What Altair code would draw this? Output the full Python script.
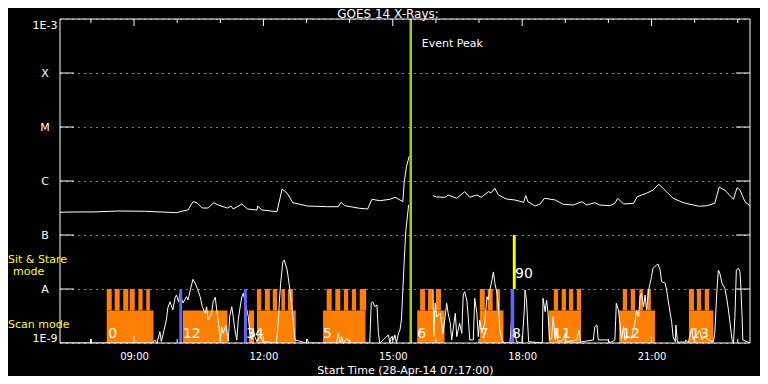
import math
import altair as alt
import pandas as pd

DAY = "2014-04-28 "

# ---------------- GOES long channel (white, upper curve) ----------------
long_time_1 = ["07:17", "07:35", "08:03", "08:37", "09:15", "10:00", "10:07", "10:15", "10:22", "10:28",
               "10:35", "10:43", "10:51", "10:57", "11:10", "11:15", "11:18", "11:30", "11:38", "11:51",
               "11:52", "11:58", "12:19", "12:20", "12:26", "12:33", "12:41", "13:01", "13:29", "13:44",
               "13:48", "13:53", "14:14", "14:25", "14:31", "14:42", "14:56", "15:03", "15:10", "15:14",
               "15:16", "15:19", "15:23"]
long_flux_1 = [2.63e-7, 2.67e-7, 2.67e-7, 2.78e-7, 2.75e-7, 2.59e-7, 2.78e-7, 2.90e-7, 4.14e-7, 3.92e-7,
               3.16e-7, 3.16e-7, 3.97e-7, 3.59e-7, 3.16e-7, 3.44e-7, 3.03e-7, 3.75e-7, 3.03e-7, 2.90e-7,
               3.44e-7, 2.90e-7, 2.70e-7, 3.16e-7, 7.11e-7, 5.92e-7, 3.97e-7, 3.44e-7, 3.34e-7, 3.34e-7,
               4.03e-7, 3.49e-7, 3.12e-7, 3.03e-7, 4.58e-7, 4.32e-7, 4.58e-7, 4.99e-7, 4.45e-7, 4.14e-7,
               9.70e-7, 1.84e-6, 2.90e-6]
long_time_2 = ["15:56", "16:01", "16:13", "16:17", "16:29", "16:40", "16:47", "16:57", "17:03", "17:13",
               "17:17", "17:22", "17:27", "17:38", "17:50", "18:02", "18:05", "18:08", "18:18", "18:25",
               "18:31", "18:46", "18:57", "19:11", "19:23", "19:30", "19:41", "19:48", "20:02", "20:09",
               "20:13", "20:21", "20:35", "20:40", "20:53", "21:02", "21:10", "21:16", "21:30", "21:44",
               "21:58", "22:07", "22:17", "22:28", "22:34", "22:42", "22:54", "22:59", "23:03", "23:10",
               "23:17"]
long_flux_2 = [5.35e-7, 5.06e-7, 4.99e-7, 5.51e-7, 4.79e-7, 6.34e-7, 4.99e-7, 5.51e-7, 4.99e-7, 6.34e-7,
               6.07e-7, 7.33e-7, 5.51e-7, 4.64e-7, 4.45e-7, 4.03e-7, 5.35e-7, 4.14e-7, 3.44e-7, 3.75e-7,
               4.79e-7, 4.45e-7, 3.71e-7, 3.59e-7, 4.14e-7, 3.59e-7, 3.97e-7, 3.59e-7, 3.49e-7, 3.86e-7,
               4.79e-7, 3.75e-7, 3.86e-7, 5.11e-7, 5.92e-7, 6.81e-7, 8.69e-7, 7.33e-7, 4.79e-7, 3.97e-7,
               3.59e-7, 3.40e-7, 3.49e-7, 3.86e-7, 7.64e-7, 6.81e-7, 4.58e-7, 7.52e-7, 6.81e-7, 4.14e-7,
               3.44e-7]

# ---------------- GOES short channel (white, noisy lower curve) ----------------
short_time_1 = ["07:17", "07:59", "08:00", "08:01", "09:26", "09:29", "09:32", "09:36", "09:38", "09:45",
                "09:47", "09:50", "09:54", "09:57", "09:59", "10:02", "10:04", "10:08", "10:13", "10:15",
                "10:20", "10:22", "10:25", "10:28", "10:32", "10:35", "10:39", "10:41", "10:43", "10:48",
                "10:50", "10:53", "10:55", "10:57", "11:00", "11:02", "11:04", "11:08", "11:10", "11:11",
                "11:13", "11:16", "11:18", "11:20", "11:23", "11:25", "11:27", "11:30", "11:32", "11:39",
                "11:41", "11:44", "11:46", "11:48", "11:51", "11:55", "12:00", "12:18", "12:21", "12:22",
                "12:24", "12:27", "12:29", "12:33", "12:37", "12:39", "12:42", "12:44", "12:59", "13:01",
                "13:03", "13:42", "13:44", "13:47", "13:49", "13:51", "13:56", "14:00", "14:28", "14:30",
                "14:32", "14:35", "14:38", "14:40", "14:42", "14:54", "14:56", "14:58", "15:01", "15:03",
                "15:05", "15:08", "15:10", "15:12", "15:14", "15:16", "15:18", "15:22"]
short_flux_1 = [1.0e-9, 1.0e-9, 1.19e-9, 1.0e-9, 1.0e-9, 1.14e-9, 1.0e-9, 1.62e-9, 1.06e-9, 2.67e-9,
                4.45e-9, 5.82e-9, 4.09e-9, 6.81e-9, 7.74e-9, 5.82e-9, 8.32e-9, 5.50e-9, 7.20e-9, 6.26e-9,
                1.19e-8, 1.51e-8, 1.28e-8, 1.03e-8, 7.20e-9, 4.70e-9, 3.55e-9, 4.70e-9, 2.67e-9, 3.55e-9,
                5.82e-9, 7.02e-9, 4.09e-9, 2.67e-9, 1.14e-9, 2.00e-9, 1.51e-9, 2.15e-9, 1.31e-9, 1.06e-9,
                3.07e-9, 4.70e-9, 3.07e-9, 1.87e-9, 1.14e-9, 2.67e-9, 4.09e-9, 7.20e-9, 8.32e-9, 3.07e-9,
                1.62e-9, 1.14e-9, 1.87e-9, 1.31e-9, 1.06e-9, 1.31e-9, 1.06e-9, 1.0e-9, 2.67e-9, 5.43e-9,
                1.28e-8, 3.16e-8, 3.44e-8, 2.25e-8, 9.58e-9, 5.43e-9, 2.00e-9, 1.14e-9, 1.0e-9, 1.19e-9,
                1.0e-9, 1.0e-9, 1.51e-9, 1.0e-9, 1.31e-9, 1.0e-9, 1.22e-9, 1.0e-9, 1.0e-9, 5.50e-9,
                5.82e-9, 4.70e-9, 5.06e-9, 1.51e-9, 1.0e-9, 1.41e-9, 1.0e-9, 1.31e-9, 1.14e-9, 1.41e-9,
                1.0e-9, 1.51e-9, 1.74e-9, 2.67e-9, 9.58e-9, 3.44e-8, 1.14e-7, 3.59e-7]
short_time_2 = ["15:56", "15:57", "15:59", "16:01", "16:06", "16:10", "16:15", "16:17", "16:20", "16:22",
                "16:27", "16:29", "16:33", "16:36", "16:38", "16:40", "16:43", "16:45", "16:47", "16:52",
                "16:54", "16:57", "16:59", "17:01", "17:04", "17:08", "17:11", "17:13", "17:15", "17:18",
                "17:20", "17:22", "17:25", "17:27", "17:29", "17:32", "17:35", "17:43", "17:45", "17:48",
                "17:50", "17:52", "18:00", "18:03", "18:04", "18:06", "18:09", "18:28", "18:29", "18:32",
                "18:34", "18:36", "18:38", "18:41", "18:43", "18:46", "18:47", "18:50", "18:57", "19:00",
                "19:01", "19:16", "19:19", "19:21", "19:39", "19:41", "19:44", "19:46", "20:00", "20:02",
                "20:09", "20:11", "20:14", "20:16", "20:18", "20:21", "20:23", "20:28", "20:32", "20:37",
                "20:39", "20:42", "20:44", "20:46", "20:49", "20:51", "20:53", "20:56", "20:58", "21:00",
                "21:02", "21:07", "21:09", "21:12", "21:14", "21:19", "21:21", "21:23", "21:26", "21:28",
                "21:30", "21:33", "21:34", "21:36", "21:47", "21:48", "21:51", "21:56", "21:58", "22:03",
                "22:07", "22:10", "22:14", "22:19", "22:26", "22:28", "22:31", "22:33", "22:35", "22:38",
                "22:42", "22:45", "22:47", "22:49", "22:52", "22:54", "22:56", "22:58", "23:01", "23:03",
                "23:04", "23:06", "23:07", "23:17"]
short_flux_2 = [9.58e-9, 1.31e-9, 5.50e-9, 3.03e-9, 3.59e-9, 1.51e-9, 5.43e-9, 3.55e-9, 2.32e-9, 1.14e-9,
                3.55e-9, 1.31e-9, 2.32e-9, 1.51e-9, 7.74e-9, 8.91e-9, 6.26e-9, 3.07e-9, 1.14e-9, 1.14e-9,
                6.73e-9, 3.55e-9, 1.31e-9, 2.67e-9, 1.51e-9, 2.32e-9, 7.20e-9, 6.26e-9, 9.58e-9, 1.47e-8,
                2.07e-8, 1.28e-8, 8.32e-9, 4.70e-9, 1.74e-9, 1.14e-9, 1.0e-9, 1.0e-9, 2.48e-9, 1.31e-9,
                1.62e-9, 1.06e-9, 1.0e-9, 4.09e-9, 9.58e-9, 6.26e-9, 1.06e-9, 1.0e-9, 6.73e-9, 3.80e-9,
                6.26e-9, 3.59e-9, 1.14e-9, 1.24e-9, 3.07e-9, 1.14e-9, 1.74e-9, 1.06e-9, 1.14e-9, 1.51e-9,
                1.04e-9, 1.14e-9, 1.74e-9, 1.04e-9, 1.14e-9, 2.00e-9, 2.15e-9, 1.14e-9, 1.14e-9, 1.0e-9,
                1.14e-9, 5.43e-9, 4.09e-9, 2.32e-9, 1.14e-9, 2.00e-9, 1.14e-9, 1.31e-9, 1.22e-9, 2.32e-9,
                4.09e-9, 3.07e-9, 7.20e-9, 8.32e-9, 4.70e-9, 7.74e-9, 4.09e-9, 9.58e-9, 1.28e-8, 1.69e-8,
                2.42e-8, 2.78e-8, 2.90e-8, 2.25e-8, 1.37e-8, 1.28e-8, 9.58e-9, 6.26e-9, 3.55e-9, 2.48e-9,
                1.31e-9, 1.06e-9, 2.15e-9, 1.04e-9, 1.04e-9, 1.14e-9, 1.0e-9, 1.87e-9, 1.14e-9, 1.41e-9,
                1.74e-9, 1.14e-9, 1.31e-9, 1.14e-9, 1.06e-9, 1.51e-9, 9.58e-9, 2.25e-8, 1.95e-8, 1.28e-8,
                1.03e-8, 6.26e-9, 4.09e-9, 2.48e-9, 1.14e-9, 1.0e-9, 3.07e-9, 2.25e-8, 2.42e-8, 2.09e-8,
                1.28e-8, 3.07e-9, 1.14e-9, 1.0e-9]

# ---------------- instrument mode bars ----------------
scan_start = ["08:22", "10:08", "11:40", "11:51", "13:23", "15:34", "17:01", "18:37", "20:15", "21:52"]
scan_end = ["09:27", "11:10", "11:47", "12:45", "14:22", "16:12", "17:34", "19:22", "21:05", "22:26"]
scan_top = 4.0e-9
tooth_start = ["08:22", "08:33", "08:45", "08:54", "09:06", "09:17",
               "11:51", "12:02", "12:13", "12:25", "12:34",
               "13:28", "13:40", "13:52", "14:03", "14:14",
               "15:38", "15:49", "16:00",
               "17:01", "17:12", "17:24",
               "18:44", "18:55", "19:05", "19:16",
               "20:20", "20:31", "20:43", "20:54",
               "21:52", "22:03", "22:14"]
tooth_end = ["08:29", "08:40", "08:52", "09:01", "09:12", "09:22",
             "11:57", "12:09", "12:19", "12:30", "12:41",
             "13:35", "13:47", "13:58", "14:09", "14:23",
             "15:45", "15:56", "16:07",
             "17:08", "17:19", "17:29",
             "18:50", "19:01", "19:11", "19:22",
             "20:26", "20:37", "20:48", "20:59",
             "21:59", "22:09", "22:20"]
mode_floor = 1.0e-9
mode_level = 1.0e-8
stare_level = 1.0e-7
blue_start = ["10:03", "11:33", "17:44"]
blue_end = ["10:07", "11:37", "17:49"]
yellow_start = ["17:47"]
yellow_end = ["17:51"]
event_peak_time = ["15:25"]

run_labels = ["0", "12", "34", "5", "6", "7", "8", "11", "12", "13"]
run_label_time = ["08:24", "10:08", "11:36", "13:23", "15:34", "17:01", "17:46", "18:43", "20:19", "21:55"]
run_label_flux = 1.24e-9
stare_labels = ["90"]
stare_label_time = ["17:50"]
stare_label_flux = 1.6e-8

level_flux = [1e-9, 1e-8, 1e-7, 1e-6, 1e-5, 1e-4, 1e-3]
level_name = ["1E-9", "A", "B", "C", "M", "X", "1E-3"]
hour_ticks = list(range(8, 24))
major_hours = [9, 12, 15, 18, 21]

# ---------------- frames ----------------
def tt(lst):
    return pd.to_datetime([DAY + t for t in lst])

lines_df = pd.concat([
    pd.DataFrame({"time": tt(long_time_1), "flux": long_flux_1, "seg": "long1"}),
    pd.DataFrame({"time": tt(long_time_2), "flux": long_flux_2, "seg": "long2"}),
    pd.DataFrame({"time": tt(short_time_1), "flux": short_flux_1, "seg": "short1"}),
    pd.DataFrame({"time": tt(short_time_2), "flux": short_flux_2, "seg": "short2"}),
], ignore_index=True)
scan_df = pd.DataFrame({"time": tt(scan_start), "end": tt(scan_end), "flux": mode_floor, "hi": scan_top})
tooth_df = pd.DataFrame({"time": tt(tooth_start), "end": tt(tooth_end), "flux": scan_top, "hi": mode_level})
blue_df = pd.DataFrame({"time": tt(blue_start), "end": tt(blue_end), "flux": mode_floor, "hi": mode_level})
yellow_df = pd.DataFrame({"time": tt(yellow_start), "end": tt(yellow_end), "flux": mode_level, "hi": stare_level})
peak_df = pd.DataFrame({"time": tt(event_peak_time), "label": ["Event Peak"]})
runlab_df = pd.DataFrame({"time": tt(run_label_time), "flux": run_label_flux, "label": run_labels})
starelab_df = pd.DataFrame({"time": tt(stare_label_time), "flux": stare_label_flux, "label": stare_labels})
level_df = pd.DataFrame({"flux": level_flux[1:-1]})
tick_df = pd.DataFrame({"time": tt([f"{h:02d}:00" for h in hour_ticks]),
                        "major": [h in major_hours for h in hour_ticks]})

W, H = 690, 324
FONT = "DejaVu Sans"
ORANGE = "#ff8000"

xs = alt.Scale(domain=[alt.DateTime(year=2014, month=4, date=28, hours=7, minutes=17),
                       alt.DateTime(year=2014, month=4, date=28, hours=23, minutes=17)], nice=False)
ys = alt.Scale(type="log", domain=[level_flux[0], level_flux[-1]], nice=False)

label_expr = "".join(
    f"abs(log(datum.value)/LN10 - ({round(math.log10(v))})) < 0.01 ? '{n}' : "
    for v, n in zip(level_flux, level_name)) + "''"

x_axis = alt.Axis(values=[alt.DateTime(year=2014, month=4, date=28, hours=h) for h in major_hours],
                  format="%H:%M", ticks=False, domain=False, grid=False, labelColor="white",
                  labelFont=FONT, labelFontSize=10, labelPadding=8,
                  title="Start Time (28-Apr-14 07:17:00)", titleColor="white", titleFont=FONT,
                  titleFontSize=11, titleFontWeight="normal", titlePadding=3)
y_axis = alt.Axis(values=level_flux, labelExpr=label_expr, ticks=False, domain=False,
                  grid=True, gridColor="white", gridDash=[1, 5], gridWidth=1, gridOpacity=1,
                  labelColor="white", labelFont=FONT, labelFontSize=11, labelAlign="center",
                  labelPadding=15.5, labelFlush=True, title=None)

X = alt.X("time:T", scale=xs, axis=x_axis)
Y = alt.Y("flux:Q", scale=ys, axis=y_axis)

def rects(df, color):
    return alt.Chart(df).mark_rect(color=color).encode(x=X, x2="end:T", y=Y, y2="hi:Q")

scan = rects(scan_df, ORANGE)
teeth = rects(tooth_df, ORANGE)
blue = rects(blue_df, "#6464ff")
yellow = rects(yellow_df, "#ffff00")

lines = alt.Chart(lines_df).mark_line(color="white", strokeWidth=1, clip=True).encode(
    x=X, y=Y, detail="seg:N")

peak_rule = alt.Chart(peak_df).mark_rule(color="#a0d000", strokeWidth=2.5).encode(x=X)
peak_text = alt.Chart(peak_df).mark_text(color="white", font=FONT, fontSize=11, align="left",
                                         baseline="alphabetic", dx=11).encode(
    x=X, y=alt.value(28), text="label:N")

run_text = alt.Chart(runlab_df).mark_text(color="white", font=FONT, fontSize=14, align="left",
                                          baseline="alphabetic").encode(x=X, y=Y, text="label:N")
stare_text = alt.Chart(starelab_df).mark_text(color="white", font=FONT, fontSize=14, align="left",
                                              baseline="alphabetic").encode(x=X, y=Y, text="label:N")

ytick_l = alt.Chart(level_df).mark_rule(color="white").encode(y=Y, x=alt.value(0), x2=alt.value(14))
ytick_r = alt.Chart(level_df).mark_rule(color="white").encode(y=Y, x=alt.value(W - 14), x2=alt.value(W))

def xticks(major, top):
    ln = 7 if major else 4
    y0, y1 = (0, ln) if top else (H, H - ln)
    return alt.Chart(tick_df).transform_filter(
        alt.datum.major if major else ~alt.datum.major).mark_rule(color="white").encode(
        x=X, y=alt.value(y0), y2=alt.value(y1))

one = pd.DataFrame({"k": [0]})
frame = [
    alt.Chart(one).mark_rule(color="white").encode(x=alt.value(0), x2=alt.value(W), y=alt.value(0)),
    alt.Chart(one).mark_rule(color="white").encode(x=alt.value(0), x2=alt.value(W), y=alt.value(H)),
    alt.Chart(one).mark_rule(color="white").encode(x=alt.value(0), y=alt.value(0), y2=alt.value(H)),
    alt.Chart(one).mark_rule(color="white").encode(x=alt.value(W), y=alt.value(0), y2=alt.value(H)),
]

def note(text, x, y, color, size, align="left"):
    return alt.Chart(pd.DataFrame({"label": [text]})).mark_text(
        color=color, font=FONT, fontSize=size, align=align, baseline="alphabetic").encode(
        x=alt.value(x), y=alt.value(y), text="label:N")

title = note("GOES 14 X-Rays:", 328, -1.5, "white", 12, "center")
sit1 = note("Sit & Stare", -52, 243.5, "#ffff00", 11)
sit2 = note("mode", -47, 256, "#ffff00", 11)
scanlab = note("Scan mode", -52, 308.5, "#ffff00", 11)

chart = alt.layer(
    scan, teeth, lines, blue, yellow, peak_rule, peak_text, run_text, stare_text,
    ytick_l, ytick_r, xticks(False, True), xticks(True, True), xticks(False, False), xticks(True, False),
    *frame, title, sit1, sit2, scanlab,
).properties(
    width=W, height=H, background="black",
    autosize=alt.AutoSizeParams(type="none"),
    padding={"left": 52, "top": 11, "right": 10, "bottom": 33},
).configure_view(stroke=None)

chart.save("out.html", embed_options={"renderer": "svg", "actions": False})
